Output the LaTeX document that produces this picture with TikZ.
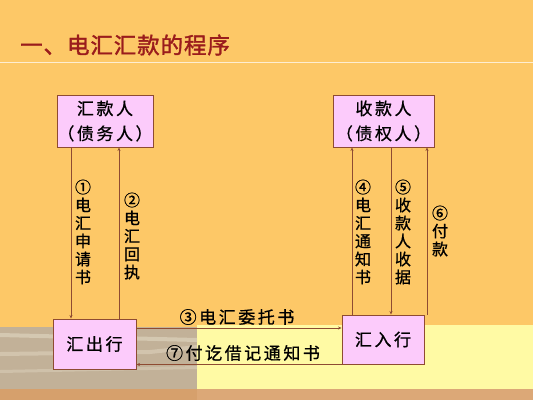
\documentclass[tikz,border=0pt]{standalone}
\usepackage{fontspec}
\setmainfont[FakeBold=0.8]{Noto Sans CJK SC}
\newfontfamily\cjkwide[LetterSpace=15,FakeBold=0.8]{Noto Sans CJK SC}
\newfontfamily\cjkbold[FakeBold=1.5,LetterSpace=4]{Noto Sans CJK SC}
\usetikzlibrary{arrows.meta}
\definecolor{bgorange}{HTML}{FDC867}
\definecolor{paleyel}{HTML}{FFFAA4}
\definecolor{bandbrown}{HTML}{DCA877}
\definecolor{boxfill}{HTML}{FCCBFB}
\definecolor{linebrown}{HTML}{8E4B32}
\definecolor{titlered}{HTML}{9A1C1C}
\definecolor{photo}{HTML}{C2B198}
\definecolor{photolight}{HTML}{DDD2BC}
\tikzset{
  party/.style={draw=linebrown, line width=0.9pt, fill=boxfill, inner sep=0pt,
    align=center, font=\cjkwide\fontsize{17}{25}\selectfont},
  bank/.style={draw=linebrown, line width=0.9pt, fill=boxfill, inner sep=0pt,
    align=center, font=\cjkwide\fontsize{17}{20}\selectfont},
  flow/.style={draw=linebrown, line width=0.8pt, -{Stealth[length=3.5pt,width=3pt]}},
  vlabel/.style={align=center, inner sep=0pt, font=\fontsize{16}{18}\selectfont},
  hlabel/.style={inner sep=0pt, font=\cjkwide\fontsize{17}{20}\selectfont}
}
\begin{document}
\begin{tikzpicture}[x=1pt,y=-1pt]
\useasboundingbox (0,0) rectangle (533,400);
% background
\fill[bgorange] (0,0) rectangle (533,400);
\fill[paleyel] (197,325) rectangle (533,389);
\fill[photo] (0,327) rectangle (197,389);
\fill[photolight,opacity=0.7] (0,333) -- (197,338) -- (197,342) -- (0,337) -- cycle;
\fill[photolight,opacity=0.6] (0,352) -- (150,350) -- (197,345) -- (197,349) -- (150,354) -- (0,356) -- cycle;
\fill[photolight,opacity=0.5] (0,370) -- (197,366) -- (197,369) -- (0,373) -- cycle;
\fill[bandbrown] (0,389) rectangle (533,400);
\fill[bandbrown!80!brown] (0,389) rectangle (197,400);
\draw[white!70!bgorange, line width=1pt] (0,62) -- (533,62);
% title
\node[anchor=west, inner sep=0pt, text=titlered, font=\cjkbold\fontsize{22.5}{24}\selectfont] (title) at (20,45) {一、电汇汇款的程序};
% boxes
\node[party, minimum width=96pt, minimum height=52pt] (hk) at (105,121) {汇款人\\（债务人）};
\node[party, minimum width=101pt, minimum height=52pt] (sk) at (383.5,121) {收款人\\（债权人）};
\node[bank, minimum width=83pt, minimum height=50pt] (hc) at (94.5,344) {汇出行};
\node[bank, minimum width=82pt, minimum height=49pt] (hr) at (383,339.5) {汇入行};
% connector x/y positions
\coordinate (xa) at (71,0);
\coordinate (xb) at (119,0);
\coordinate (xc) at (352,0);
\coordinate (xd) at (391,0);
\coordinate (xe) at (427,0);
\coordinate (y3) at (0,328);
\coordinate (y7) at (0,364.5);
% vertical connectors
\draw[flow] (hk.south -| xa) -- (hc.north -| xa);
\draw[flow] (hc.north -| xb) -- (hk.south -| xb);
\draw[flow] (hr.north -| xc) -- (sk.south -| xc);
\draw[flow] (sk.south -| xd) -- (hr.north -| xd);
\draw[flow] (hr.north -| xe) -- (sk.south -| xe);
% horizontal connectors
\draw[flow] (hc.east |- y3) -- (hr.west |- y3);
\draw[flow] (hr.west |- y7) -- (hc.east |- y7);
% labels
\node[vlabel] (l1) at (83,232) {①\\电\\汇\\申\\请\\书};
\node[vlabel] (l2) at (132,236) {②\\电\\汇\\回\\执};
\node[vlabel] (l4) at (363,232) {④\\电\\汇\\通\\知\\书};
\node[vlabel] (l5) at (403,232) {⑤\\收\\款\\人\\收\\据};
\node[vlabel] (l6) at (440,231) {⑥\\付\\款};
\node[hlabel] (l3) at (237,317) {③电汇委托书};
\node[hlabel] (l7) at (243,353) {⑦付讫借记通知书};
\end{tikzpicture}
\end{document}
